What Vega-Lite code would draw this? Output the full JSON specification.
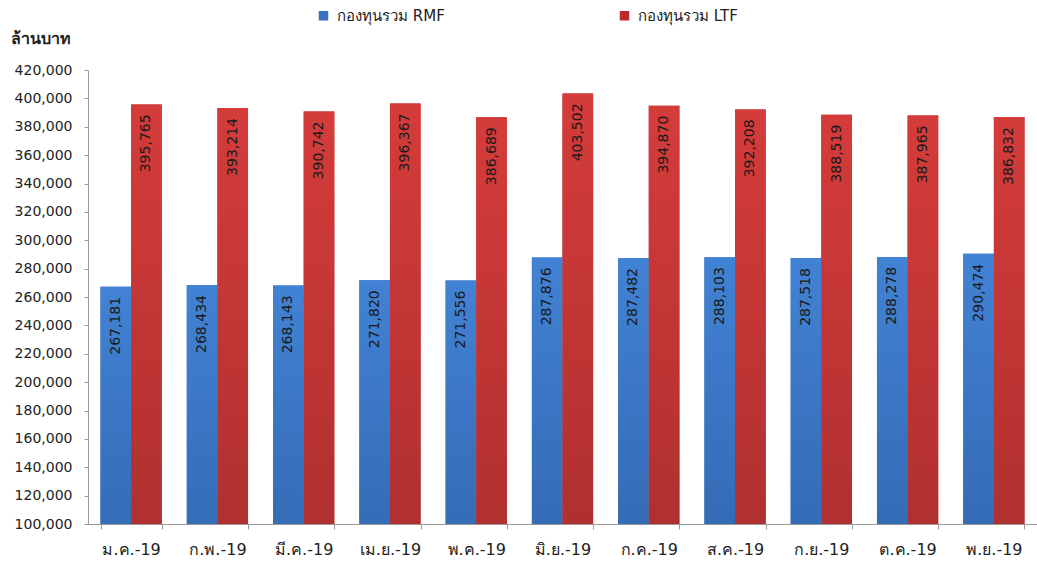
{
  "$schema": "https://vega.github.io/schema/vega-lite/v6.json",
  "autosize": "none",
  "width": 949,
  "height": 454,
  "padding": {"left": 88, "top": 70, "right": 0, "bottom": 38},
  "background": "white",
  "config": {
    "view": {"stroke": null},
    "font": "DejaVu Sans",
    "axis": {"labelFont": "DejaVu Sans", "titleFont": "DejaVu Sans", "labelColor": "#222222"},
    "legend": {"labelFont": "DejaVu Sans"}
  },
  "data": {
    "values": [
      {"month": "ม.ค.-19", "series": "กองทุนรวม RMF", "value": 267181},
      {"month": "ม.ค.-19", "series": "กองทุนรวม LTF", "value": 395765},
      {"month": "ก.พ.-19", "series": "กองทุนรวม RMF", "value": 268434},
      {"month": "ก.พ.-19", "series": "กองทุนรวม LTF", "value": 393214},
      {"month": "มี.ค.-19", "series": "กองทุนรวม RMF", "value": 268143},
      {"month": "มี.ค.-19", "series": "กองทุนรวม LTF", "value": 390742},
      {"month": "เม.ย.-19", "series": "กองทุนรวม RMF", "value": 271820},
      {"month": "เม.ย.-19", "series": "กองทุนรวม LTF", "value": 396367},
      {"month": "พ.ค.-19", "series": "กองทุนรวม RMF", "value": 271556},
      {"month": "พ.ค.-19", "series": "กองทุนรวม LTF", "value": 386689},
      {"month": "มิ.ย.-19", "series": "กองทุนรวม RMF", "value": 287876},
      {"month": "มิ.ย.-19", "series": "กองทุนรวม LTF", "value": 403502},
      {"month": "ก.ค.-19", "series": "กองทุนรวม RMF", "value": 287482},
      {"month": "ก.ค.-19", "series": "กองทุนรวม LTF", "value": 394870},
      {"month": "ส.ค.-19", "series": "กองทุนรวม RMF", "value": 288103},
      {"month": "ส.ค.-19", "series": "กองทุนรวม LTF", "value": 392208},
      {"month": "ก.ย.-19", "series": "กองทุนรวม RMF", "value": 287518},
      {"month": "ก.ย.-19", "series": "กองทุนรวม LTF", "value": 388519},
      {"month": "ต.ค.-19", "series": "กองทุนรวม RMF", "value": 288278},
      {"month": "ต.ค.-19", "series": "กองทุนรวม LTF", "value": 387965},
      {"month": "พ.ย.-19", "series": "กองทุนรวม RMF", "value": 290474},
      {"month": "พ.ย.-19", "series": "กองทุนรวม LTF", "value": 386832}
    ]
  },
  "encoding": {
    "x": {
      "field": "month", "type": "nominal", "sort": null,
      "scale": {"paddingInner": 0.29, "paddingOuter": 0.145},
      "axis": {
        "title": null, "labelAngle": 0, "tickBand": "extent", "tickSize": 5,
        "domainColor": "#9a9a9a", "tickColor": "#9a9a9a", "labelFontSize": 16,
        "labelPadding": 12, "labelBaseline": "top"
      }
    },
    "xOffset": {
      "field": "series", "type": "nominal",
      "scale": {"domain": ["กองทุนรวม RMF", "กองทุนรวม LTF"], "paddingInner": 0, "paddingOuter": 0}
    },
    "y": {
      "field": "value", "type": "quantitative",
      "scale": {"domain": [100000, 420000], "nice": false, "zero": false},
      "axis": {
        "title": "ล้านบาท", "titleAngle": 0, "titleAlign": "left", "titleBaseline": "middle",
        "titleX": -78, "titleY": -32, "titleFontSize": 16, "titleFontWeight": "bold", "titleColor": "#222222",
        "values": [100000, 120000, 140000, 160000, 180000, 200000, 220000, 240000, 260000, 280000, 300000, 320000, 340000, 360000, 380000, 400000, 420000],
        "format": ",d", "grid": false, "tickSize": 4, "labelPadding": 12, "labelFontSize": 14,
        "domainColor": "#9a9a9a", "tickColor": "#9a9a9a"
      }
    }
  },
  "layer": [
    {
      "mark": {"type": "bar", "clip": true},
      "encoding": {
        "color": {
          "field": "series", "type": "nominal",
          "scale": {"domain": ["กองทุนรวม RMF", "กองทุนรวม LTF"], "range": ["#3a70c0", "#c0282d"]},
          "legend": {
            "title": null, "orient": "none", "direction": "horizontal",
            "legendX": 228, "legendY": -62, "symbolType": "square", "symbolSize": 90,
            "symbolStrokeWidth": 0, "labelFontSize": 15, "labelColor": "#222222",
            "columnPadding": 172, "padding": 0, "labelOffset": 6
          }
        }
      }
    },
    {
      "transform": [{"filter": "datum.series === 'กองทุนรวม RMF'"}],
      "mark": {
        "type": "bar", "clip": true,
        "color": {"gradient": "linear", "x1": 0, "y1": 0, "x2": 0, "y2": 1,
          "stops": [{"offset": 0, "color": "#4282d4"}, {"offset": 1, "color": "#2d5fa6"}]}
      }
    },
    {
      "transform": [{"filter": "datum.series === 'กองทุนรวม LTF'"}],
      "mark": {
        "type": "bar", "clip": true,
        "color": {"gradient": "linear", "x1": 0, "y1": 0, "x2": 0, "y2": 1,
          "stops": [{"offset": 0, "color": "#d43c3a"}, {"offset": 1, "color": "#a42c2c"}]}
      }
    },
    {
      "mark": {"type": "text", "angle": 270, "align": "right", "baseline": "middle", "dx": -10, "fontSize": 14, "color": "#1a1a1a"},
      "encoding": {
        "text": {"field": "value", "type": "quantitative", "format": ",d"}
      }
    }
  ]
}
